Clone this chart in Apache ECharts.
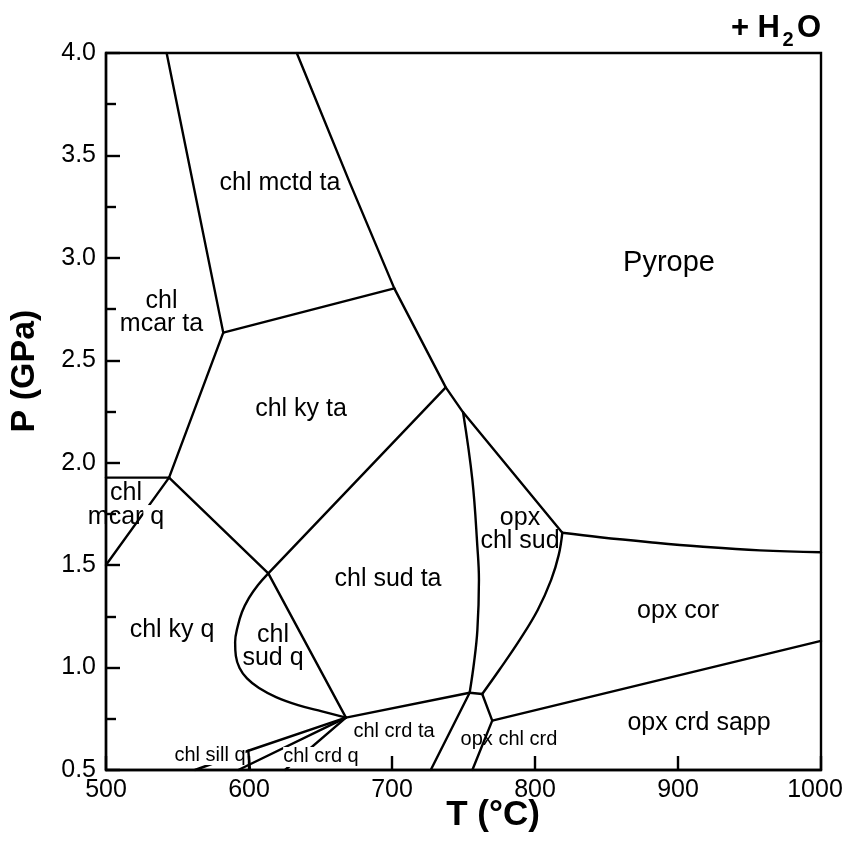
<!DOCTYPE html>
<html><head><meta charset="utf-8">
<script src="https://cdn.jsdelivr.net/npm/echarts@6/dist/echarts.min.js"></script>
<style>html,body{margin:0;padding:0;background:#fff}#c{width:848px;height:843px}</style>
</head><body><div id="c"></div>
<script>
// Axis ticks
const xTickValues = [500, 600, 700, 800, 900, 1000];
const yTickValues = [0.5, 1.0, 1.5, 2.0, 2.5, 3.0, 3.5, 4.0];

// Phase boundaries [T (°C), P (GPa)]
const bndMcarMctd   = [[542.4,4.0],[582.0,2.635]];
const bndMctdPyrope = [[633.4,4.0],[670.6,3.365],[701.6,2.851]];
const bndMcarKy     = [[582.0,2.635],[544.1,1.927]];
const bndMctdKy     = [[582.0,2.635],[701.6,2.851]];
const bndPyropeWest = [[701.6,2.851],[737.6,2.368],[749.7,2.246],[819.1,1.658]];
const bndPyropeCor  = [[819.1,1.658],[845.5,1.636],[880.4,1.612],[915.4,1.591],[957.3,1.572],[1000,1.563]];
const bndSudCor     = [[819.1,1.658],[816.6,1.550],[811.3,1.428],[801.9,1.281],[789.3,1.135],[775.0,0.988],[763.1,0.871]];
const bndTaSud      = [[749.7,2.246],[756.2,1.916],[759.7,1.590],[760.8,1.428],[759.7,1.183],[757.3,1.021],[754.3,0.877]];
const bndHG         = [[754.3,0.877],[763.1,0.871]];
const bndGI         = [[763.1,0.871],[770.1,0.741]];
const bndCorSapp    = [[770.1,0.741],[1000,1.130]];
const bndISouth     = [[770.1,0.741],[756.2,0.5]];
const bndHSouth     = [[754.3,0.877],[727.1,0.5]];
const bndJH         = [[667.8,0.756],[754.3,0.877]];
const bndKJ         = [[613.5,1.460],[667.8,0.756]];
const bndKD         = [[613.5,1.460],[737.6,2.368]];
const bndLK         = [[544.1,1.927],[613.5,1.460]];
const bndLWest      = [[500,1.927],[544.1,1.927]];
const bndLSouthWest = [[544.1,1.927],[500,1.501]];
const bndLoop       = [[613.5,1.460],[606.3,1.403],[600.0,1.340],[595.1,1.271],[592.0,1.198],[590.3,1.125],[590.8,1.057],[593.4,0.998],[598.6,0.947],[607.0,0.900],[618.9,0.856],[634.3,0.817],[651.0,0.786],[667.8,0.756]];
const bndSillUpper  = [[667.8,0.756],[599.5,0.594],[562.2,0.5]];
const bndSillKy     = [[599.5,0.594],[600.7,0.5]];
const bndJSouthWest = [[667.8,0.756],[592.5,0.5]];
const bndJCrdQ      = [[667.8,0.756],[625.2,0.5]];

const boundaries = [
  [bndMcarMctd, false], [bndMctdPyrope, false], [bndMcarKy, false], [bndMctdKy, false],
  [bndPyropeWest, false], [bndPyropeCor, true], [bndSudCor, true], [bndTaSud, true],
  [bndHG, false], [bndGI, false], [bndCorSapp, false], [bndISouth, false], [bndHSouth, false],
  [bndJH, false], [bndKJ, false], [bndKD, false], [bndLK, false], [bndLWest, false],
  [bndLSouthWest, false], [bndLoop, true], [bndSillUpper, false], [bndSillKy, false],
  [bndJSouthWest, false], [bndJCrdQ, false]
];

// Field labels [text, T, P]
const labelTexts = ['chl mctd ta','Pyrope','chl\nmcar ta','chl ky ta','chl\nmcar q','chl sud ta','opx\nchl sud','opx cor','chl ky q','chl\nsud q','chl crd ta','opx chl crd','opx crd sapp','chl sill q','chl crd q'];
const labelT = [621.7, 893.7, 538.8, 636.4, 514.0, 697.2, 789.5, 900.0, 546.2, 616.8, 701.4, 781.8, 914.7, 572.7, 650.3];
const labelP = [3.365, 2.975, 2.731, 2.262, 1.791, 1.432, 1.674, 1.276, 1.183, 1.103, 0.690, 0.651, 0.730, 0.573, 0.564];

const FONT = 'Liberation Sans, Arial, sans-serif';
const INK = '#000';
const LW = 2.4;
const bigSize = {'Pyrope': 29};
const smallSize = {'chl crd ta':20,'opx chl crd':20,'chl sill q':20,'chl crd q':20};
const whiteBg = {'chl sill q':true,'chl crd q':true};

const series = boundaries.map(([d, sm]) => ({
  type: 'line', data: d, symbol: 'none', showSymbol: false, smooth: sm ? 0.4 : false,
  lineStyle: { color: INK, width: LW, cap: 'round', join: 'round' }, silent: true, z: 2
}));

series.push({
  type: 'scatter', symbolSize: 0, silent: true, z: 5,
  itemStyle: { color: INK, opacity: 1 },
  data: labelTexts.map((t, i) => {
    const fs = bigSize[t] || smallSize[t] || 25;
    const item = { value: [labelT[i], labelP[i]], name: t };
    if (t === 'chl\nmcar q') {
      item.label = { formatter: '{n|chl}\n{n|mcar}{w| q}',
        rich: { n: { fontSize: 25, lineHeight: 24, fontFamily: FONT, color: INK },
                w: { fontSize: 25, lineHeight: 24, fontFamily: FONT, color: INK, backgroundColor: '#fff' } } };
    } else {
      item.label = { fontSize: fs, lineHeight: fs < 22 ? 20 : 23, color: INK, backgroundColor: whiteBg[t] ? '#fff' : 'transparent' };
    }
    return item;
  }),
  label: { show: true, position: 'inside', formatter: p => p.name, color: INK, fontFamily: FONT, fontSize: 25, align: 'center', textBorderWidth: 0 }
});

const chart = echarts.init(document.getElementById('c'), null, { renderer: 'canvas' });
chart.setOption({
  animation: false,
  backgroundColor: '#fff',
  grid: { left: 106, right: 27, top: 53, bottom: 73, show: true, borderColor: INK, borderWidth: LW, backgroundColor: 'transparent' },
  xAxis: {
    type: 'value', min: xTickValues[0], max: xTickValues[xTickValues.length - 1], interval: 100,
    axisLine: { show: true, onZero: false, lineStyle: { color: INK, width: LW } },
    axisTick: { show: true, inside: true, length: 14, lineStyle: { color: INK, width: LW } },
    axisLabel: { fontSize: 25, color: INK, fontFamily: FONT, margin: 8,
      formatter: v => v === 1000 ? '{r|1000}' : String(v),
      rich: { r: { fontSize: 25, color: INK, fontFamily: FONT, padding: [0, 12, 0, 0] } } },
    splitLine: { show: false }
  },
  yAxis: {
    type: 'value', min: yTickValues[0], max: yTickValues[yTickValues.length - 1], interval: 0.5,
    axisLine: { show: true, onZero: false, lineStyle: { color: INK, width: LW } },
    axisTick: { show: true, inside: true, length: 14, lineStyle: { color: INK, width: LW } },
    minorTick: { show: true, splitNumber: 2, length: 10, lineStyle: { color: INK, width: LW } },
    axisLabel: { fontSize: 25, color: INK, fontFamily: FONT, margin: 10, formatter: v => v.toFixed(1) },
    splitLine: { show: false }
  },
  graphic: [
    { type: 'text', x: 493, y: 815, style: { text: 'T (°C)', font: 'bold 35px ' + FONT, fill: INK, textAlign: 'center', textVerticalAlign: 'middle' } },
    { type: 'text', x: 25, y: 371, rotation: Math.PI / 2, style: { text: 'P (GPa)', font: 'bold 34px ' + FONT, fill: INK, textAlign: 'center', textVerticalAlign: 'middle' } },
    { type: 'text', x: 780, y: 28, style: { text: '+ H', font: 'bold 31px ' + FONT, fill: INK, textAlign: 'right', textVerticalAlign: 'middle' } },
    { type: 'text', x: 788, y: 40, style: { text: '2', font: 'bold 20px ' + FONT, fill: INK, textAlign: 'center', textVerticalAlign: 'middle' } },
    { type: 'text', x: 821, y: 28, style: { text: 'O', font: 'bold 31px ' + FONT, fill: INK, textAlign: 'right', textVerticalAlign: 'middle' } }
  ],
  series: series
});
</script></body></html>
